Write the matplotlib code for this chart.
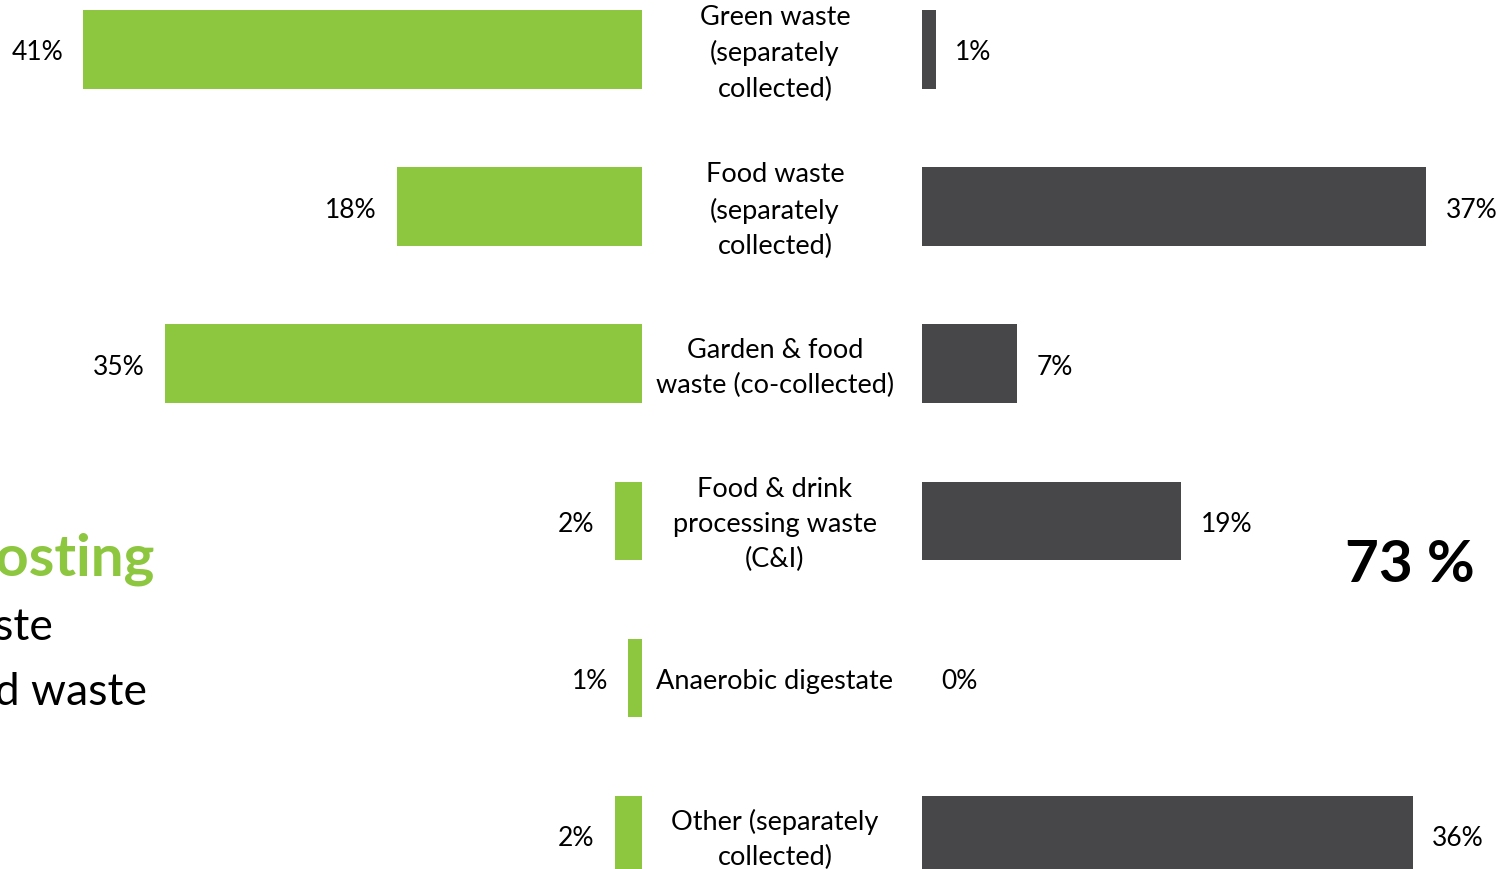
import matplotlib
matplotlib.use("Agg")
import matplotlib.pyplot as plt
import matplotlib.transforms as mtransforms

# data
categories = [
    "Green waste\n(separately\ncollected)",
    "Food waste\n(separately\ncollected)",
    "Garden & food\nwaste (co-collected)",
    "Food & drink\nprocessing waste\n(C&I)",
    "Anaerobic digestate",
    "Other (separately\ncollected)",
]
left_values = [41, 18, 35, 2, 1, 2]
right_values = [1, 37, 7, 19, 0, 36]
headline = "73 %"
side_lines = ["Composting", "Green waste", "Food waste"]

GREEN = "#8DC63F"
DARK = "#474749"
FONT = "Lato"

W, H = 1501, 870
PX_PER_PCT = 13.63
ROW_PX = 157.2
FIRST_ROW_PX = 50.2

fig = plt.figure(figsize=(W / 100, H / 100), dpi=100)
fig.patch.set_facecolor("white")

ypos = list(range(len(categories)))
ylim = ((H - FIRST_ROW_PX) / ROW_PX, -FIRST_ROW_PX / ROW_PX)

ax_l = fig.add_axes([0, 0, 642 / W, 1])
ax_r = fig.add_axes([922 / W, 0, (W - 922) / W, 1])

ax_l.barh(ypos, left_values, height=0.5, color=GREEN)
ax_l.set_xlim(642 / PX_PER_PCT, 0)
ax_r.barh(ypos, right_values, height=0.5, color=DARK)
ax_r.set_xlim(0, (W - 922) / PX_PER_PCT)

for ax in (ax_l, ax_r):
    ax.set_ylim(*ylim)
    ax.axis("off")

for y, v in zip(ypos, left_values):
    ax_l.annotate(f"{v}%", (v, y), xytext=(-14.5, -2), textcoords="offset points",
                  ha="right", va="center", fontsize=19, family=FONT, color="black")
for y, v in zip(ypos, right_values):
    ax_r.annotate(f"{v}%", (v, y), xytext=(14, -2), textcoords="offset points",
                  ha="left", va="center", fontsize=19, family=FONT, color="black")

trans = mtransforms.blended_transform_factory(fig.transFigure, ax_l.transData)
for y, lab in zip(ypos, categories):
    fig.text(775 / W, y + 3 / ROW_PX, lab, transform=trans, ha="center", va="center",
             fontsize=19.5, family=FONT, linespacing=1.5, color="black")

fig.text(1410 / W, 1 - 566 / H, headline, ha="center", va="center",
         fontsize=42, fontweight="bold", family=FONT, color="black")

# cropped text block at the left edge
fig.text(155 / W, 1 - 576 / H, side_lines[0], ha="right", va="baseline",
         fontsize=42, fontweight="bold", family=FONT, color=GREEN)
fig.text(53 / W, 1 - 640 / H, side_lines[1], ha="right", va="baseline",
         fontsize=32, family=FONT, color="black")
fig.text(147 / W, 1 - 705 / H, side_lines[2], ha="right", va="baseline",
         fontsize=32, family=FONT, color="black")

fig.savefig("out.png", dpi=100, facecolor="white")
